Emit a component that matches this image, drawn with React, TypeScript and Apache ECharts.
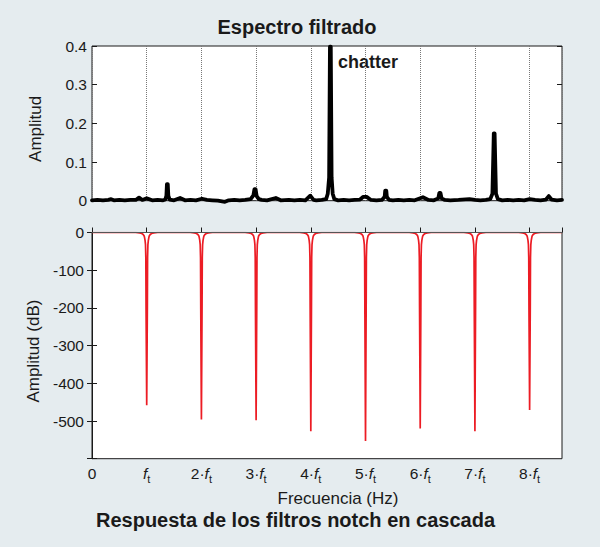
import React, { useEffect, useRef } from 'react';
import * as echarts from 'echarts';

const FONT = '"Liberation Sans", Arial, Helvetica, sans-serif';
const INK = '#1a1a1a';
const RED = '#ec1c24';
const BG = '#e5ecef';

// frequency axis is in multiples of the tooth-passing frequency f_t
const X_MAX = 8.592;

// top panel: filtered spectrum [f / f_t, amplitude]
const spectrum: [number, number][] = [
  [0, 0.001], [0.1, 0.002], [0.2, 0.001], [0.3, 0.002], [0.35, 0.004], [0.4, 0.001],
  [0.5, 0.002], [0.6, 0.001], [0.7, 0.002], [0.8, 0.002], [0.86, 0.008], [0.92, 0.002],
  [1.0, 0.006], [1.1, 0.001], [1.2, 0.002], [1.3, 0.001], [1.34, 0.003], [1.36, 0.013],
  [1.37, 0.043], [1.385, 0.043], [1.395, 0.013], [1.42, 0.003], [1.5, 0.001], [1.61, 0.007],
  [1.7, 0.001], [1.8, 0.002], [1.9, 0.001], [2.01, 0.005], [2.1, 0.002], [2.2, 0.001],
  [2.3, 0.0], [2.43, -0.003], [2.5, 0.001], [2.6, 0.002], [2.7, 0.001], [2.8, 0.002],
  [2.9, 0.004], [2.95, 0.014], [2.97, 0.03], [2.99, 0.03], [3.01, 0.012], [3.05, 0.004],
  [3.1, 0.002], [3.2, 0.001], [3.36, 0.007], [3.45, 0.001], [3.6, 0.002], [3.7, 0.001],
  [3.8, 0.002], [3.9, 0.001], [3.99, 0.013], [4.05, 0.002], [4.1, 0.001], [4.2, 0.002],
  [4.28, 0.004], [4.31, 0.018], [4.335, 0.06], [4.35, 0.398], [4.365, 0.398], [4.38, 0.06],
  [4.4, 0.018], [4.43, 0.004], [4.5, 0.001], [4.6, 0.002], [4.7, 0.001], [4.8, 0.002],
  [4.9, 0.003], [4.96, 0.01], [5.02, 0.01], [5.1, 0.002], [5.2, 0.001], [5.3, 0.002],
  [5.35, 0.01], [5.36, 0.026], [5.38, 0.026], [5.39, 0.01], [5.43, 0.002], [5.5, 0.001],
  [5.6, 0.002], [5.7, 0.001], [5.8, 0.002], [5.9, 0.001], [6.05, 0.009], [6.15, 0.002],
  [6.25, 0.001], [6.33, 0.006], [6.35, 0.02], [6.37, 0.02], [6.39, 0.006], [6.45, 0.002],
  [6.55, 0.001], [6.7, 0.002], [6.9, 0.004], [7.0, 0.002], [7.1, 0.001], [7.2, 0.002],
  [7.28, 0.004], [7.32, 0.018], [7.335, 0.11], [7.345, 0.174], [7.36, 0.174], [7.37, 0.11],
  [7.385, 0.018], [7.42, 0.004], [7.5, 0.001], [7.6, 0.002], [7.7, 0.001], [7.8, 0.002],
  [7.9, 0.001], [8.0, 0.004], [8.1, 0.002], [8.2, 0.001], [8.3, 0.003], [8.35, 0.012],
  [8.4, 0.003], [8.5, 0.001], [X_MAX, 0.002],
];

// bottom panel: cascaded notch filters, one notch per harmonic
const harmonics = [1, 2, 3, 4, 5, 6, 7, 8];
const notchDepthDb = [-458, -496, -498, -527, -553, -520, -527, -471];
// shape of one side of a notch (distance from centre, dB)
const notchOffset = [0.2, 0.13, 0.09, 0.064, 0.046, 0.04, 0.03, 0.022, 0.016, 0.012];
const notchShapeDb = [0, -1.3, -2.7, -5.3, -9.3, -13, -21, -32, -66, -200];

const xTickPrefix = ['0', '', '2·', '3·', '4·', '5·', '6·', '7·', '8·'];

const notchData: [number, number][] = [[0, 0]];
harmonics.forEach((k, i) => {
  notchOffset.forEach((o, j) => notchData.push([k - o, notchShapeDb[j]]));
  notchData.push([k, notchDepthDb[i]]);
  for (let j = notchOffset.length - 1; j >= 0; j--) {
    notchData.push([k + notchOffset[j], notchShapeDb[j]]);
  }
});
notchData.push([X_MAX, 0]);

const GRID_TOP = { left: 92, top: 46, width: 470, height: 154.7 };
const GRID_BOT = { left: 92, top: 232.5, width: 470, height: 226.2 };

const tickIn = { show: true, inside: true, length: 5, lineStyle: { color: INK } };
const labelStyle = { color: INK, fontSize: 15.5, fontFamily: FONT };

const App: React.FC = () => {
  const chartRef = useRef<HTMLDivElement>(null);

  useEffect(() => {
    if (!chartRef.current) return;
    const chart = echarts.init(chartRef.current, undefined, { renderer: 'svg' });

    const gridBase = {
      show: true,
      backgroundColor: '#fff',
      borderColor: INK,
      borderWidth: 1,
      outerBoundsMode: 'none',
      containLabel: false,
    };

    const option = {
      animation: false,
      backgroundColor: BG,
      grid: [
        { ...gridBase, ...GRID_TOP },
        { ...gridBase, ...GRID_BOT },
      ],
      xAxis: [
        {
          gridIndex: 0,
          type: 'value',
          min: 0,
          max: X_MAX,
          interval: 1,
          axisLine: { show: false },
          axisTick: { show: false },
          axisLabel: { show: false },
          splitLine: { show: true, lineStyle: { color: '#777', type: 'dotted', width: 1 } },
        },
        {
          gridIndex: 1,
          type: 'value',
          min: 0,
          max: X_MAX,
          interval: 1,
          axisLine: { show: true, lineStyle: { color: INK } },
          axisTick: tickIn,
          splitLine: { show: false },
          axisLabel: {
            margin: 7,
            formatter: (v: number) => {
              const k = Math.round(v);
              if (Math.abs(v - k) > 1e-6 || k > 8) return '';
              if (k === 0) return '{n|0}';
              return (xTickPrefix[k] ? `{n|${xTickPrefix[k]}}` : '') + '{f|f}{s|t}';
            },
            rich: {
              n: { ...labelStyle, padding: [0, 0, 3, 0], verticalAlign: 'bottom' },
              f: { ...labelStyle, fontStyle: 'italic', padding: [0, 0, 3, 0], verticalAlign: 'bottom' },
              s: { ...labelStyle, fontSize: 11, verticalAlign: 'bottom' },
            },
          },
          name: 'Frecuencia (Hz)',
          nameLocation: 'middle',
          nameGap: 31,
          nameTextStyle: { color: INK, fontSize: 17, fontFamily: FONT, padding: [0, 0, 0, 22] },
        },
        {
          gridIndex: 1,
          type: 'value',
          position: 'top',
          min: 0,
          max: X_MAX,
          z: 5,
          axisLine: { show: true, lineStyle: { color: '#555', width: 1 } },
          axisTick: { show: false },
          axisLabel: { show: false },
          splitLine: { show: false },
        },
      ],
      yAxis: [
        {
          gridIndex: 0,
          type: 'value',
          min: 0,
          max: 0.4,
          interval: 0.1,
          axisLine: { show: false },
          axisTick: tickIn,
          splitLine: { show: false },
          axisLabel: { ...labelStyle, margin: 5 },
          name: 'Amplitud',
          nameLocation: 'middle',
          nameGap: 48,
          nameRotate: 90,
          nameTextStyle: { color: INK, fontSize: 17, fontFamily: FONT, padding: [0, 11, 0, 0] },
        },
        {
          gridIndex: 0,
          type: 'value',
          position: 'right',
          min: 0,
          max: 0.4,
          interval: 0.1,
          axisLine: { show: false },
          axisTick: tickIn,
          axisLabel: { show: false },
          splitLine: { show: false },
        },
        {
          gridIndex: 1,
          type: 'value',
          min: -600,
          max: 0,
          interval: 100,
          axisLine: { show: true, lineStyle: { color: INK } },
          axisTick: tickIn,
          splitLine: { show: false },
          axisLabel: {
            ...labelStyle,
            margin: 8,
            formatter: (v: number) => (v <= -600 ? '' : String(v)),
          },
          name: 'Amplitud (dB)',
          nameLocation: 'middle',
          nameGap: 48,
          nameRotate: 90,
          nameTextStyle: { color: INK, fontSize: 17, fontFamily: FONT, padding: [0, 11, 0, 0] },
        },
        {
          gridIndex: 1,
          type: 'value',
          position: 'right',
          min: -600,
          max: 0,
          interval: 100,
          axisLine: { show: false },
          axisTick: tickIn,
          axisLabel: { show: false },
          splitLine: { show: false },
        },
      ],
      series: [
        {
          type: 'line',
          xAxisIndex: 0,
          yAxisIndex: 0,
          data: spectrum,
          showSymbol: false,
          clip: false,
          lineStyle: { color: '#000', width: 3.8, join: 'round', cap: 'round' },
        },
        {
          type: 'line',
          xAxisIndex: 1,
          yAxisIndex: 2,
          data: notchData,
          showSymbol: false,
          lineStyle: { color: RED, width: 1.7 },
        },
      ],
      graphic: [
        {
          type: 'text',
          style: {
            text: 'Espectro filtrado',
            x: 297,
            y: 27,
            textAlign: 'center',
            align: 'center',
            textVerticalAlign: 'middle',
            verticalAlign: 'middle',
            font: `bold 20px ${FONT}`,
            fill: INK,
          },
        },
        {
          type: 'text',
          style: {
            text: 'chatter',
            x: 338,
            y: 62,
            textAlign: 'left',
            align: 'left',
            textVerticalAlign: 'middle',
            verticalAlign: 'middle',
            font: `bold 18px ${FONT}`,
            fill: INK,
          },
        },
        {
          type: 'text',
          style: {
            text: 'Respuesta de los filtros notch en cascada',
            x: 295.5,
            y: 520,
            textAlign: 'center',
            align: 'center',
            textVerticalAlign: 'middle',
            verticalAlign: 'middle',
            font: `bold 20px ${FONT}`,
            fill: INK,
          },
        },
      ],
    };

    chart.setOption(option as any);

    return () => {
      chart.dispose();
    };
  }, []);

  return (
    <div
      ref={chartRef}
      style={{ position: 'fixed', left: 0, top: 0, width: 600, height: 547, background: BG }}
    />
  );
};

export default App;
